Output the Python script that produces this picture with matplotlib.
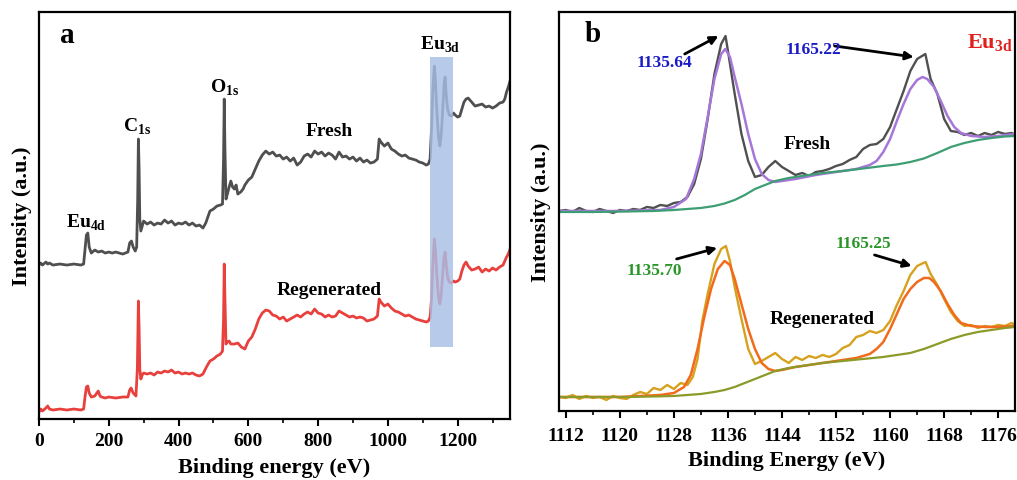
import matplotlib
matplotlib.use("Agg")
import matplotlib.pyplot as plt
from matplotlib.patches import Rectangle
from matplotlib.ticker import MultipleLocator

plt.rcParams['font.family'] = ['Liberation Serif', 'DejaVu Serif']
plt.rcParams['font.weight'] = 'bold'
plt.rcParams['mathtext.fontset'] = 'custom'
plt.rcParams['mathtext.rm'] = 'Liberation Serif:bold'
plt.rcParams['mathtext.bf'] = 'Liberation Serif:bold'

# ---- survey spectra (panel a) ----
survey_fresh_ev = [0, 5, 10, 20, 25, 30, 40, 60, 80, 100, 120, 128, 132, 136, 140, 144, 150, 160, 170, 180,
                   190, 200, 210, 220, 240, 255, 260, 265, 270, 276, 280, 283, 285, 287, 289, 292, 296, 300, 310, 320,
                   330, 340, 350, 360, 370, 380, 390, 400, 410, 420, 430, 440, 450, 460, 470, 478, 485, 490, 500, 510,
                   520, 526, 529, 531, 533, 536, 540, 545, 550, 555, 560, 565, 570, 578, 585, 590, 600, 610, 620, 630,
                   640, 650, 660, 670, 680, 690, 700, 710, 720, 730, 740, 750, 760, 770, 780, 790, 800, 810, 820, 830,
                   840, 850, 860, 870, 880, 890, 900, 910, 920, 930, 940, 950, 960, 970, 975, 980, 990, 1000, 1010, 1020,
                   1030, 1040, 1050, 1060, 1070, 1080, 1090, 1100, 1110, 1116, 1121, 1125, 1129, 1133, 1136, 1140, 1145, 1149, 1153, 1157,
                   1161, 1164, 1167, 1171, 1176, 1182, 1188, 1193, 1200, 1206, 1212, 1218, 1224, 1230, 1240, 1250, 1260, 1270, 1280, 1290,
                   1300, 1310, 1320, 1330, 1335, 1340, 1345, 1350]
survey_fresh = [184, 186, 184, 187, 185, 186, 184, 185, 184, 185, 184, 185, 200, 214, 216, 202, 196, 199, 197, 198,
                196, 197, 196, 197, 195, 197, 206, 208, 202, 198, 202, 250, 310, 280, 230, 218, 223, 228, 225, 227,
                224, 226, 225, 229, 226, 228, 224, 226, 225, 227, 224, 226, 223, 224, 221, 226, 233, 238, 240, 243,
                244, 245, 290, 350, 300, 250, 255, 262, 268, 262, 260, 264, 255, 257, 260, 264, 269, 272, 280, 288,
                294, 298, 295, 297, 293, 294, 290, 292, 288, 291, 284, 287, 293, 295, 292, 298, 295, 297, 293, 296,
                294, 290, 297, 292, 293, 290, 292, 288, 291, 287, 289, 286, 287, 290, 310, 307, 303, 306, 300, 298,
                295, 293, 294, 291, 290, 289, 287, 286, 284, 285, 290, 320, 360, 383, 370, 340, 312, 303, 315, 338,
                365, 372, 355, 340, 334, 333, 336, 334, 332, 333, 340, 347, 350, 351, 347, 343, 344, 345, 342, 343,
                341, 343, 346, 347, 350, 357, 362, 368]

survey_regen_ev = [0, 5, 10, 20, 25, 30, 40, 60, 80, 100, 120, 128, 132, 136, 140, 144, 150, 160, 166, 170,
                   175, 180, 190, 200, 220, 240, 255, 260, 264, 270, 278, 282, 285, 287, 289, 292, 296, 300, 310, 320,
                   330, 340, 350, 360, 370, 380, 390, 400, 410, 420, 430, 440, 450, 460, 470, 480, 490, 500, 510, 520,
                   526, 529, 531, 533, 536, 540, 545, 550, 560, 570, 580, 590, 600, 610, 620, 630, 640, 650, 660, 670,
                   680, 690, 700, 710, 720, 730, 740, 750, 760, 770, 780, 790, 800, 810, 820, 830, 840, 850, 860, 870,
                   880, 890, 900, 910, 920, 930, 940, 950, 960, 970, 975, 980, 990, 1000, 1010, 1020, 1030, 1040, 1050, 1060,
                   1070, 1080, 1090, 1100, 1110, 1116, 1121, 1125, 1129, 1133, 1136, 1140, 1145, 1149, 1153, 1157, 1161, 1164, 1167, 1171,
                   1176, 1182, 1188, 1193, 1200, 1206, 1212, 1218, 1224, 1230, 1240, 1250, 1260, 1270, 1280, 1290, 1300, 1310, 1320, 1330,
                   1335, 1340, 1345, 1350]
survey_regen = [37, 40, 38, 41, 43, 40, 39, 40, 39, 40, 39, 40, 52, 62, 63, 56, 52, 53, 56, 58,
                53, 52, 51, 52, 51, 52, 52, 59, 61, 56, 53, 80, 148, 120, 80, 70, 74, 76, 75, 76,
                74, 77, 76, 78, 77, 79, 76, 77, 75, 76, 75, 76, 74, 73, 75, 82, 88, 90, 93, 95,
                98, 130, 185, 150, 105, 107, 108, 105, 105, 106, 102, 100, 108, 112, 120, 130, 136, 139, 138, 134,
                133, 130, 132, 128, 130, 132, 134, 132, 135, 137, 135, 140, 136, 135, 132, 134, 132, 133, 138, 136,
                134, 132, 133, 131, 132, 131, 128, 129, 130, 133, 150, 147, 143, 145, 141, 138, 137, 135, 133, 134,
                132, 130, 129, 128, 127, 128, 132, 150, 185, 210, 200, 175, 152, 145, 155, 175, 192, 197, 185, 172,
                167, 166, 168, 167, 168, 170, 178, 184, 187, 183, 179, 180, 182, 177, 180, 178, 181, 179, 182, 184,
                188, 192, 195, 200]

# ---- Eu 3d high resolution spectra (panel b) ----
eu_fresh_ev = [1111, 1112, 1113, 1114, 1115, 1116, 1117, 1118, 1119, 1120, 1121, 1122, 1123, 1124, 1125, 1126, 1127, 1128,
               1129, 1130, 1131, 1132, 1133, 1134, 1135, 1135.64, 1136, 1137, 1138, 1139, 1140, 1141, 1142, 1143, 1144,
               1145, 1146, 1147, 1148, 1149, 1150, 1151, 1152, 1153, 1154, 1155, 1156, 1157, 1158, 1159, 1160, 1161,
               1162, 1163, 1164, 1165.22, 1166, 1167, 1168, 1169, 1170, 1171, 1172, 1173, 1174, 1175, 1176, 1177, 1178, 1178.5]
eu_fresh = [208, 209, 207, 211, 208, 207, 210, 208, 206, 209, 208, 210, 209, 212, 211, 214, 213, 216,
            217, 222, 235, 260, 300, 345, 375, 383, 368, 325, 285, 258, 242, 244, 252, 258, 252,
            248, 244, 246, 243, 247, 248, 250, 253, 255, 259, 262, 270, 274, 275, 280, 292, 310,
            328, 348, 360, 365, 340, 325, 300, 288, 287, 284, 286, 283, 286, 284, 287, 285, 286, 284]

eu_fresh_fit_ev = [1111, 1120, 1126, 1128, 1129.8, 1131, 1132, 1133, 1134, 1135, 1135.6, 1136.3, 1137, 1138, 1139,
                   1140, 1141, 1142, 1143, 1144, 1146, 1149, 1152, 1155, 1157, 1158, 1159, 1160, 1161, 1162, 1163,
                   1164, 1164.8, 1165.5, 1166.5, 1167.5, 1168.5, 1169.5, 1170.5, 1172, 1174, 1176, 1178.5]
eu_fresh_fit = [208, 208, 209, 212, 220, 240, 265, 302, 340, 365, 370, 362, 342, 315, 285,
                260, 245, 239, 237, 238, 240, 244, 247, 250, 254, 258, 267, 280, 298, 315, 330,
                339, 342, 340, 332, 318, 303, 292, 286, 283, 282, 283, 285]

eu_bg_ev = [1111, 1116, 1121, 1125, 1128, 1130, 1132, 1134, 1135.5, 1137, 1138.5, 1140, 1141.5, 1143, 1145,
            1147, 1150, 1153, 1156, 1159, 1161, 1163, 1165, 1167, 1169, 1171, 1173, 1175, 1177, 1178.5]
eu_fresh_bg = [207, 207, 207.5, 208, 209, 210, 211, 213, 215.5, 219, 224, 230, 234, 238, 241,
               243, 246, 248, 250.5, 253, 254.5, 257, 260.5, 266, 272, 276, 279, 281, 282.5, 283]

eu_regen_ev = [1111, 1112, 1113, 1114, 1115, 1116, 1117, 1118, 1119, 1120, 1121, 1122, 1123, 1124, 1125, 1126, 1127, 1128,
               1129, 1130, 1130.8, 1131.5, 1132.2, 1133, 1134, 1135, 1135.7, 1136.3, 1137, 1138, 1139, 1140, 1141, 1142,
               1143, 1144, 1145, 1146, 1147, 1148, 1149, 1150, 1151, 1152, 1153, 1154, 1155, 1156, 1157, 1158, 1159,
               1160, 1161, 1162, 1163, 1164, 1165.25, 1166, 1167, 1168, 1169, 1170, 1171, 1172, 1173, 1174, 1175, 1176,
               1177, 1178, 1178.5]
eu_regen = [22, 21, 24, 20, 23, 21, 22, 19, 23, 21, 20, 24, 27, 25, 31, 29, 34, 30,
            36, 34, 42, 60, 98, 125, 155, 170, 173, 158, 132, 100, 70, 55, 58, 62,
            66, 60, 56, 62, 59, 63, 61, 64, 62, 65, 71, 74, 82, 84, 88, 86, 89,
            98, 114, 128, 144, 153, 157, 145, 134, 120, 107, 98, 93, 94, 91, 93, 92, 94,
            93, 96, 94]

eu_regen_fit_ev = [1111, 1120, 1126, 1128, 1129.5, 1130.5, 1131.5, 1132.5, 1133.5, 1134.5, 1135.5, 1136.3, 1137, 1138,
                   1139, 1140, 1141, 1142, 1143, 1144, 1146, 1149, 1152, 1155, 1157, 1158, 1159, 1160, 1161, 1162,
                   1163, 1164, 1165, 1165.8, 1166.5, 1167.5, 1168.5, 1169.5, 1170.5, 1172, 1174, 1176, 1178.5]
eu_regen_fit = [22, 22, 24, 26, 32, 44, 70, 102, 130, 150, 158, 154, 140, 115,
                90, 70, 56, 50, 48, 49, 52, 55, 58, 61, 65, 70, 77, 90, 105, 120,
                130, 137, 141, 141, 137, 128, 115, 104, 96, 93, 92, 92, 93]

eu_regen_bg = [22, 22, 22, 22.5, 23, 24, 25, 27, 29, 32, 36, 40, 44, 48, 51,
               53, 56, 58, 60, 62, 64, 66, 70, 75, 80, 84, 87, 89, 91, 92]

fig = plt.figure(figsize=(10.17, 4.81), dpi=100)
ax1 = fig.add_axes([0.0383, 0.1268, 0.4632, 0.846])
ax2 = fig.add_axes([0.5497, 0.1435, 0.4484, 0.8295])

# panel a
ax1.plot(survey_fresh_ev, survey_fresh, color='#4f4f4f', lw=2.0)
ax1.plot(survey_regen_ev, survey_regen, color='#e8413d', lw=2.0)
ax1.add_patch(Rectangle((1121, 102), 66, 290, facecolor='#a9bfe6', alpha=0.82,
                        edgecolor='none', zorder=3))
ax1.set_xlim(0, 1350)
ax1.set_ylim(30, 437)
ax1.xaxis.set_major_locator(MultipleLocator(200))
ax1.xaxis.set_minor_locator(MultipleLocator(100))
ax1.set_xlabel('Binding energy (eV)', fontsize=16, fontweight='bold', labelpad=5.5)
ax1.set_ylabel('Intensity (a.u.)', fontsize=16, fontweight='bold', labelpad=5)
ax1.text(0.045, 0.946, 'a', transform=ax1.transAxes, fontsize=21, fontweight='bold', va='center')

lab = dict(fontsize=14, fontweight='bold', ha='center', va='center')
ax1.text(135, 227, r'Eu$_\mathregular{4d}$', **lab)
ax1.text(282, 323, r'C$_\mathregular{1s}$', **lab)
ax1.text(532, 362, r'O$_\mathregular{1s}$', **lab)
ax1.text(1149, 405, r'Eu$_\mathregular{3d}$', **lab)
ax1.text(833, 319, 'Fresh', **lab)
ax1.text(833, 160, 'Regenerated', **lab)

# panel b
ax2.plot(eu_fresh_ev, eu_fresh, color='#505050', lw=1.7)
ax2.plot(eu_fresh_fit_ev, eu_fresh_fit, color='#a677d8', lw=1.8)
ax2.plot(eu_bg_ev, eu_fresh_bg, color='#3c9e72', lw=1.6)
ax2.plot(eu_regen_ev, eu_regen, color='#d6a21e', lw=1.7)
ax2.plot(eu_regen_fit_ev, eu_regen_fit, color='#f26a1b', lw=1.8)
ax2.plot(eu_bg_ev, eu_regen_bg, color='#8c9a28', lw=1.6)
ax2.set_xlim(1111, 1178.5)
ax2.set_ylim(8, 407)
ax2.xaxis.set_major_locator(MultipleLocator(8))
ax2.xaxis.set_minor_locator(MultipleLocator(4))
ax2.set_xlabel('Binding Energy (eV)', fontsize=16, fontweight='bold', labelpad=4)
ax2.set_ylabel('Intensity (a.u.)', fontsize=16, fontweight='bold', labelpad=6)
ax2.text(0.057, 0.945, 'b', transform=ax2.transAxes, fontsize=21, fontweight='bold', va='center')
ax2.text(0.945, 0.925, r'Eu$_\mathregular{3d}$', transform=ax2.transAxes, color='#e0201c',
         fontsize=16, fontweight='bold', ha='center', va='center')
ax2.text(1147.7, 275, 'Fresh', **lab)
ax2.text(1149.9, 100, 'Regenerated', **lab)

arrow = dict(arrowstyle='-|>', color='black', lw=2, mutation_scale=12, shrinkA=0, shrinkB=0)
note = dict(fontsize=12.5, fontweight='bold', ha='center', va='center')
ax2.annotate('', xy=(1134.6, 383), xytext=(1129.6, 365), arrowprops=arrow)
ax2.text(1126.6, 357, '1135.64', color='#1a1ac8', **note)
ax2.annotate('', xy=(1163.5, 362), xytext=(1151.8, 373), arrowprops=arrow)
ax2.text(1148.7, 370, '1165.22', color='#1a1ac8', **note)
ax2.annotate('', xy=(1134.4, 171), xytext=(1128.4, 160), arrowprops=arrow)
ax2.text(1125.1, 149, '1135.70', color='#2a962a', **note)
ax2.annotate('', xy=(1163.2, 153), xytext=(1157.7, 164), arrowprops=arrow)
ax2.text(1156.0, 176, '1165.25', color='#2a962a', **note)

for ax, pad in ((ax1, 4.5), (ax2, 6.5)):
    for s in ax.spines.values():
        s.set_linewidth(1.6)
    ax.set_yticks([])
    ax.tick_params(axis='x', which='major', direction='out', length=5, width=1.5,
                   labelsize=14, pad=pad)
    ax.tick_params(axis='x', which='minor', direction='out', length=3, width=1.2)
    for t in ax.get_xticklabels():
        t.set_fontweight('bold')

fig.savefig('out.png', dpi=100)
